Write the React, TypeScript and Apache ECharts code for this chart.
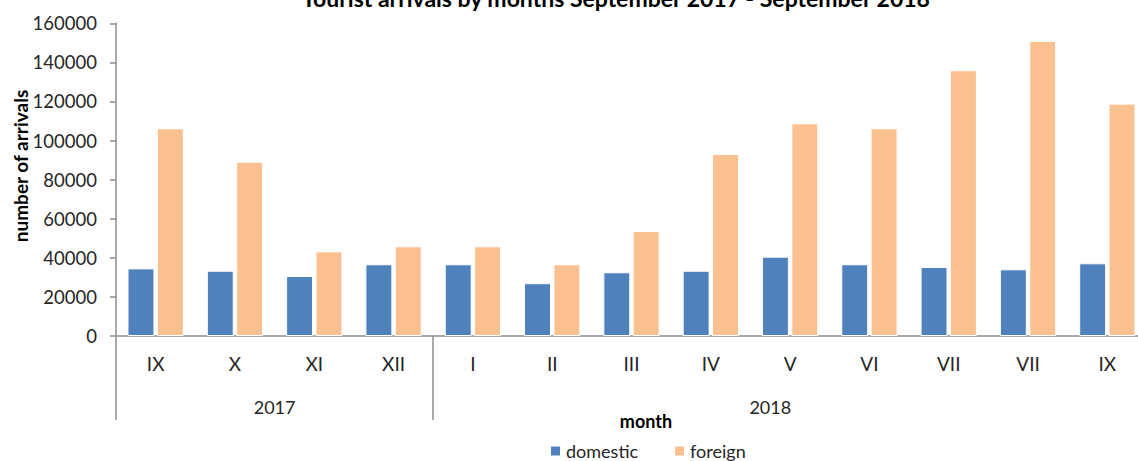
import React, { useEffect, useRef } from "react";
import * as echarts from "echarts";

const months = ["IX", "X", "XI", "XII", "I", "II", "III", "IV", "V", "VI", "VII", "VII", "IX"];
const domestic = [34600, 33400, 30700, 36700, 36700, 27000, 32600, 33400, 40600, 36700, 35300, 34100, 37200];
const foreign = [106300, 89200, 43300, 45900, 45900, 36700, 53700, 93100, 108800, 106300, 136000, 151000, 118900];
const years = ["2017", "2018"];
const yearCounts = [4, 9];
const seriesNames = ["domestic", "foreign"];
const yMin = 0;
const yMax = 160000;
const yStep = 20000;

const titleText = "Tourist arrivals by months September 2017 - September 2018";
const yName = "number of arrivals";
const xName = "month";

const FONT = "Lato";
const TEXT = "#262626";
const AXIS = "#8c8c8c";

export default function App() {
  const ref = useRef<HTMLDivElement>(null);

  useEffect(() => {
    if (!ref.current) return;
    const chart = echarts.init(ref.current, null, { renderer: "svg" });

    const boundaries: number[] = [0];
    yearCounts.forEach((c) => boundaries.push(boundaries[boundaries.length - 1] + c));
    const boundarySet = new Set(boundaries);

    chart.setOption({
      animation: false,
      title: {
        text: titleText,
        left: 297,
        top: -19,
        textStyle: { fontFamily: FONT, fontSize: 23, fontWeight: "bold", color: "#000" },
      },
      legend: {
        data: seriesNames,
        left: 544,
        top: 437,
        itemWidth: 11,
        itemHeight: 11,
        itemGap: 35,
        icon: "rect",
        textStyle: { fontFamily: FONT, fontSize: 18, color: TEXT },
      },
      grid: { left: 116, top: 23.3, width: 1031, height: 312.7 },
      xAxis: [
        {
          type: "category",
          data: months,
          axisLine: { show: true, lineStyle: { color: AXIS, width: 1.5 } },
          axisTick: { show: false },
          axisLabel: { margin: 18, fontFamily: FONT, fontSize: 19, color: TEXT, interval: 0 },
        },
        {
          type: "category",
          data: months,
          position: "bottom",
          axisLine: { show: false },
          axisLabel: { show: false },
          splitLine: { show: false },
          axisTick: {
            show: true,
            length: 84,
            interval: (i: number) => boundarySet.has(i),
            lineStyle: { color: AXIS, width: 1.5 },
          },
        },
      ],
      yAxis: {
        type: "value",
        min: yMin,
        max: yMax,
        interval: yStep,
        splitLine: { show: false },
        axisLine: { show: true, lineStyle: { color: AXIS, width: 1.5 } },
        axisTick: { show: true, length: 6, lineStyle: { color: AXIS, width: 1.5 } },
        axisLabel: {
          margin: 19,
          fontFamily: FONT,
          fontSize: 18.5,
          color: TEXT,
          formatter: (v: number) => String(v),
        },
      },
      series: [
        {
          name: seriesNames[0],
          type: "bar",
          data: domestic,
          xAxisIndex: 0,
          barGap: "9%",
          barCategoryGap: "29%",
          itemStyle: { color: "#4f81bd", borderColor: "#ffffff", borderWidth: 1 },
        },
        {
          name: seriesNames[1],
          type: "bar",
          data: foreign,
          xAxisIndex: 0,
          barGap: "9%",
          barCategoryGap: "29%",
          itemStyle: { color: "#fac090", borderColor: "#ffffff", borderWidth: 1 },
        },
      ],
    });

    const p0 = chart.convertToPixel({ xAxisIndex: 0 }, 0) as number;
    const p1 = chart.convertToPixel({ xAxisIndex: 0 }, 1) as number;
    const step = p1 - p0;
    const lastCenter = chart.convertToPixel({ xAxisIndex: 0 }, months.length - 1) as number;
    const yearGraphics = years.map((y, i) => {
      const gl = p0 - step / 2 + boundaries[i] * step;
      const gr = p0 - step / 2 + boundaries[i + 1] * step;
      const x = (gl + Math.min(gr, lastCenter)) / 2;
      return {
        type: "text",
        x,
        y: 407,
        style: {
          text: y,
          align: "center",
          verticalAlign: "middle",
          font: `18px ${FONT}`,
          fill: TEXT,
        },
      };
    });

    chart.setOption({
      graphic: [
        ...yearGraphics,
        {
          type: "text",
          x: 646,
          y: 421,
          style: {
            text: xName,
            align: "center",
            verticalAlign: "middle",
            font: `bold 18px ${FONT}`,
            fill: "#000",
          },
        },
        {
          type: "text",
          x: 20,
          y: 166,
          rotation: Math.PI / 2,
          style: {
            text: yName,
            align: "center",
            verticalAlign: "middle",
            font: `bold 19px ${FONT}`,
            fill: "#000",
          },
        },
      ],
    });

    return () => chart.dispose();
  }, []);

  return (
    <div
      style={{
        position: "absolute",
        left: 0,
        top: 0,
        width: 1138,
        height: 461,
        overflow: "hidden",
        background: "#fff",
      }}
    >
      <div ref={ref} style={{ width: 1170, height: 461 }} />
    </div>
  );
}
